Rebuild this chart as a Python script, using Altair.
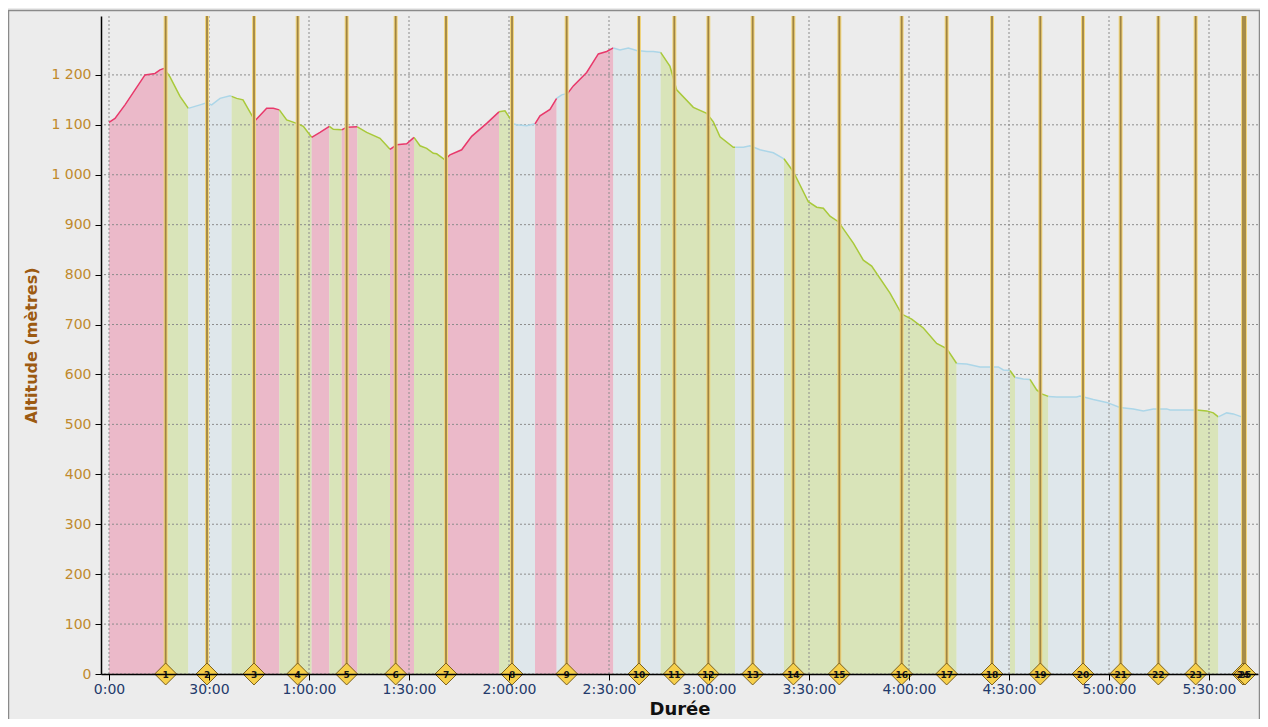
import altair as alt
import pandas as pd

# ---------------- data ----------------
# elapsed time (minutes) and altitude (m) of the profile
times = [0, 1.8, 4.8, 7.8, 10.8, 13.8, 15.3, 16.5,
         18.3, 21.3, 23.8,
         27.3, 29.3, 30.8, 33.3, 36.3, 36.8,
         38.3, 40.2, 43.8,
         47.3, 49.3, 51.1,
         53.3, 56.3, 58.3, 60.8,
         63.3, 66.1,
         67.3, 69.8,
         71.3, 74.5,
         77.3, 81.3, 84.3,
         86.3, 89.3, 91.5,
         93.3, 95.3, 97.3, 98.3, 100.8,
         102.3, 105.8, 108.8, 113.3, 117.0,
         118.8, 120.3, 121.2,
         122.3, 125.3, 127.8,
         129.3, 132.3, 134.3,
         135.8, 137.6,
         139.3, 143.3, 146.8, 149.3, 151.3,
         153.3, 155.8, 158.3, 161.3, 163.3, 165.5,
         168.3, 170.3, 175.3, 179.3, 181.3, 183.3, 187.3, 187.8,
         190.3, 192.3, 195.3, 199.3, 202.5,
         205.3, 209.8, 212.3, 214.3, 216.3, 218.8, 223.3, 226.3, 228.8,
         234.3, 237.8, 240.8, 244.3, 248.3, 251.3, 254.3,
         257.3, 259.3, 261.3, 266.8, 268.3, 270.3,
         271.8,
         274.3, 276.3,
         278.3, 279.8, 281.8,
         284.3, 290.3, 291.3, 295.3, 299.3, 303.3, 307.3, 310.3, 313.3,
         317.3, 318.3, 326.3,
         329.3, 331.3, 332.8,
         335.3, 337.3, 339.8]

alts = [1105, 1113, 1140, 1170, 1200, 1203, 1210, 1213,
        1196, 1157, 1133,
        1140, 1144, 1140, 1153, 1158, 1157,
        1153, 1150, 1108,
        1133, 1133, 1130,
        1110, 1103, 1097, 1075,
        1085, 1097,
        1091, 1090,
        1095, 1096,
        1085, 1073, 1051,
        1060, 1062, 1075,
        1058, 1053, 1043, 1042, 1030,
        1040, 1050, 1077, 1103, 1126,
        1128, 1113, 1102,
        1100, 1098, 1102,
        1118, 1131, 1153,
        1160, 1163,
        1178, 1205, 1242, 1247, 1254,
        1250, 1254, 1249, 1247, 1247, 1245,
        1217, 1170, 1135, 1123, 1106, 1076, 1055, 1055,
        1055, 1058, 1050, 1044, 1032,
        1006, 946, 935, 933, 917, 906, 863, 829, 817,
        763, 721, 711, 693, 662, 652, 622,
        621, 618, 615, 615, 609, 608,
        594,
        591, 590,
        569, 561, 556,
        555, 555, 557, 550, 544, 534, 531, 527, 531,
        531, 529, 529,
        527, 523, 515,
        523, 521, 515]

# segments: start time and type (montée / descente / plat)
seg_start = [0, 16.5, 23.8, 36.8, 43.8, 51.1, 60.8, 66.1, 69.8, 74.5,
             84.3, 91.5, 100.8, 117.0, 121.2, 127.8, 134.3, 137.6, 151.3,
             165.5, 187.8, 202.5, 254.3, 270.3, 271.8, 276.3, 281.8, 326.3, 332.8]
seg_kind = ["montée", "descente", "plat", "descente", "montée", "descente",
            "montée", "descente", "montée", "descente", "montée", "descente",
            "montée", "descente", "plat", "montée", "plat", "montée", "plat",
            "descente", "plat", "descente", "plat", "descente", "plat",
            "descente", "plat", "descente", "plat"]

# laps
lap_num = list(range(1, 26))
lap_t = [17.0, 29.4, 43.5, 56.6, 71.3, 86.0, 101.1, 120.9, 137.3, 159.0,
         169.6, 179.8, 193.1, 205.3, 219.1, 237.8, 251.3, 264.9, 279.4,
         292.2, 303.5, 314.8, 326.0, 340.2, 340.8]

x_ticks = [0, 30, 60, 90, 120, 150, 180, 210, 240, 270, 300, 330]
y_ticks = [0, 100, 200, 300, 400, 500, 600, 700, 800, 900, 1000, 1100, 1200]

kinds = ["montée", "descente", "plat"]
fill_colors = ["#ebb9c9", "#d9e4b9", "#dfe7eb"]
line_colors = ["#e8396b", "#a9c93a", "#acd6e8"]

# ---------------- tables ----------------
rows = []
ends = seg_start[1:] + [times[-1]]
for i, (s, e, k) in enumerate(zip(seg_start, ends, seg_kind)):
    for t, a in zip(times, alts):
        if s <= t <= e:
            rows.append({"t": t, "alt": a, "seg": i, "kind": k})
prof = pd.DataFrame(rows)

laps = pd.DataFrame({"t": lap_t, "alt": [0] * len(lap_t),
                     "n": [str(n) for n in lap_num]})
xg = pd.DataFrame({"t": x_ticks})
yg = pd.DataFrame({"alt": y_ticks})

W, H = 1157, 658
xscale = alt.Scale(domain=[-2.4, 344.7], nice=False, zero=False)
yscale = alt.Scale(domain=[0, 1318], nice=False)

FONT = "DejaVu Sans"

x_axis = alt.Axis(
    values=x_ticks, grid=False, zindex=1,
    labelExpr="datum.value == 0 ? '0:00' : (datum.value < 60 ? datum.value + ':00' : "
              "floor(datum.value / 60) + ':' + (datum.value % 60 < 10 ? '0' : '') + "
              "(datum.value % 60) + ':00')",
    title="Durée", titleFont=FONT, titleFontSize=18, titleFontWeight="bold",
    titleColor="#111111", titleBaseline="alphabetic", titleY=40,
    labelFont=FONT, labelFontSize=14, labelColor="#233a6b", labelPadding=2,
    domainColor="#000000", domainWidth=1.5, tickColor="#000000", tickSize=6,
    labelOverlap=False, labelFlush=False,
)
y_axis = alt.Axis(
    values=y_ticks, grid=False, zindex=1,
    labelExpr="replace(format(datum.value, ','), ',', ' ')",
    title="Altitude (mètres)", titleFont=FONT, titleFontSize=16,
    titleFontWeight="bold", titleColor="#9c5a12", titleX=-70,
    titleBaseline="middle",
    labelFont=FONT, labelFontSize=14, labelColor="#c08a2c", labelPadding=4,
    domainColor="#000000", domainWidth=1.5, tickColor="#000000", tickSize=6,
    labelOverlap=False,
)

X = alt.X("t:Q", scale=xscale, axis=x_axis)
Y = alt.Y("alt:Q", scale=yscale, axis=y_axis, stack=None)

area = alt.Chart(prof).mark_area(opacity=1, interpolate="linear").encode(
    x=X, y=Y, detail="seg:N",
    fill=alt.Fill("kind:N", scale=alt.Scale(domain=kinds, range=fill_colors), legend=None),
)

line = alt.Chart(prof).mark_line(strokeWidth=1.5, interpolate="linear").encode(
    x=X, y=Y, detail="seg:N",
    stroke=alt.Stroke("kind:N", scale=alt.Scale(domain=kinds, range=line_colors), legend=None),
)

hgrid = alt.Chart(yg).mark_rule(color="#8c8c8c", strokeDash=[2, 2], strokeWidth=1).encode(y=Y)
vgrid = alt.Chart(xg).mark_rule(color="#8c8c8c", strokeDash=[2, 2], strokeWidth=1).encode(x=X)

lap_outer = alt.Chart(laps).mark_rule(color="#f1d47c", strokeWidth=4).encode(x=X)
lap_inner = alt.Chart(laps).mark_rule(color="#9f8443", strokeWidth=1.8).encode(x=X)

diamonds = alt.Chart(laps).mark_point(
    shape="diamond", filled=True, size=480, fill="#f6cf4a", stroke="#7b5f1c",
    strokeWidth=1, opacity=1).encode(x=X, y=Y)

labels = alt.Chart(laps).mark_text(
    font=FONT, fontSize=9, fontWeight="bold", color="#1a1a1a", dy=0.5).encode(
    x=X, y=Y, text="n:N")

frame = alt.Chart(pd.DataFrame({"a": [0]})).mark_rect(
    filled=False, stroke="#8a8a8a", strokeWidth=1.5, clip=False).encode(
    x=alt.value(-92.5), x2=alt.value(W + 1.5), y=alt.value(-5.5), y2=alt.value(H + 60))

chart = alt.layer(
    area, hgrid, vgrid, line, lap_outer, lap_inner, diamonds, labels, frame
).properties(
    width=W, height=H,
    autosize=alt.AutoSizeParams(type="none"),
    padding={"left": 93, "top": 8, "right": 2, "bottom": 45},
    background="#ececec",
).configure_view(stroke=None)

chart.save("out.html", embed_options={"renderer": "svg", "actions": False})
